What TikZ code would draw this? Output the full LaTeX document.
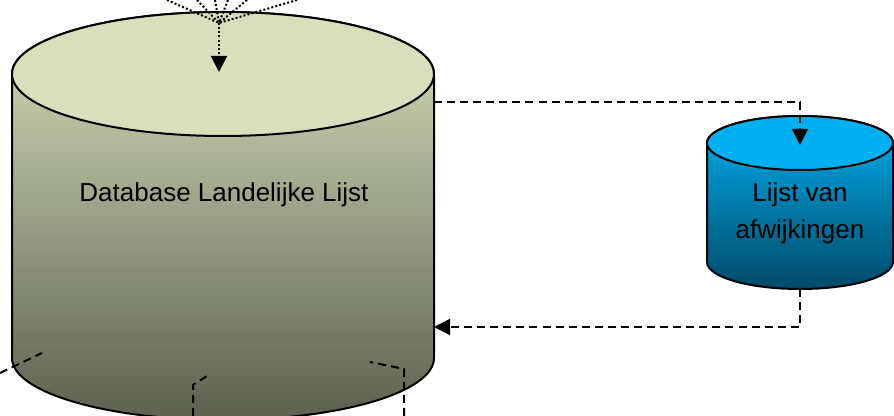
\documentclass[tikz,border=0pt]{standalone}
\usepackage{fontspec}
\setmainfont{Liberation Sans}
\usepackage{xcolor}
\usetikzlibrary{arrows.meta, positioning}

\definecolor{dbtop}{HTML}{D7E0BA}
\definecolor{dbbottom}{HTML}{5C6150}
\definecolor{afwtop}{HTML}{00B0F0}
\definecolor{afwbottom}{HTML}{004A68}

\begin{document}
\begin{tikzpicture}[x=0.75pt, y=-0.75pt,
        every node/.style={font=\fontsize{19.5}{27.5}\selectfont},
        cyl/.style={draw, line width=1.5pt},
        dashline/.style={line width=1.5pt, dash pattern=on 6pt off 3.8pt},
        dotline/.style={line width=1.5pt, dash pattern=on 1.5pt off 1.6pt},
        headend/.style={-{Triangle[length=12pt, width=12pt]}}]
        \useasboundingbox (0,0) rectangle (894,416);
        \clip (0,0) rectangle (894,416);
        % Database Landelijke Lijst
        \shade[top color=dbtop, bottom color=dbbottom, cyl] (12,74) -- (12,358)
            arc[start angle=180, end angle=0, x radius=211, y radius=62] -- (434,74)
            arc[start angle=0, end angle=-180, x radius=211, y radius=62] -- cycle;
        \filldraw[fill=dbtop, cyl] (223,74) ellipse[x radius=211, y radius=62];
        \node (db) at (224,195) {Database Landelijke Lijst};
        % Lijst van afwijkingen
        \shade[top color=afwtop, bottom color=afwbottom, cyl] (707,143) -- (707,262)
            arc[start angle=180, end angle=0, x radius=93, y radius=27] -- (893,143)
            arc[start angle=0, end angle=-180, x radius=93, y radius=27] -- cycle;
        \filldraw[fill=afwtop, cyl] (800,143) ellipse[x radius=93, y radius=27];
        \node[align=center] (afw) at (800,213) {Lijst van\\afwijkingen};
        % ends of the connectors
        \coordinate (fan) at (219,23);
        \coordinate (dbin) at (219,72);
        \coordinate (dbout) at (434,102);
        \coordinate (dbback) at (434,327);
        \coordinate (afwin) at (800,145);
        \coordinate (afwout) at (800,289);
        % Incoming lines from above
        \foreach \x [count=\i] in {167,197,215,228,247,297} {
            \coordinate (src\i) at (\x,0);
            \draw[dotline] (src\i) -- (fan);
        }
        \draw[dotline, headend] (fan) -- (dbin);
        % To and from the list
        \draw[dashline, headend] (dbout) -| (afwin);
        \draw[dashline, headend] (afwout) |- (dbback);
        % Lines from below
        \coordinate (out1) at (0,373);
        \coordinate (in1) at (42,353);
        \draw[dashline] (out1) -- (in1);
        \coordinate (out2) at (193,416);
        \coordinate (in2) at (210,374);
        \draw[dashline] (out2) -- (193,385) -- (in2);
        \coordinate (out3) at (404,416);
        \coordinate (in3) at (370,362);
        \draw[dashline] (out3) -- (404,369) -- (in3);
    \end{tikzpicture}
\end{document}
